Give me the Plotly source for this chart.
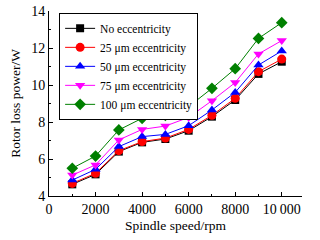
import plotly.graph_objects as go

speed = [1000, 2000, 3000, 4000, 5000, 6000, 7000, 8000, 9000, 10000]
no_ecc = [4.63, 5.17, 6.40, 6.90, 7.08, 7.53, 8.29, 9.19, 10.60, 11.26]
ecc25 = [4.68, 5.23, 6.45, 6.94, 7.13, 7.60, 8.36, 9.28, 10.72, 11.40]
ecc50 = [4.86, 5.44, 6.67, 7.21, 7.33, 7.80, 8.65, 9.60, 11.08, 11.84]
ecc75 = [5.13, 5.68, 7.03, 7.60, 7.78, 8.25, 9.15, 10.13, 11.68, 12.40]
ecc100 = [5.50, 6.16, 7.57, 8.20, 8.36, 8.83, 9.82, 10.88, 12.52, 13.37]

names = ["No eccentricity", "25 \u03bcm eccentricity", "50 \u03bcm eccentricity",
         "75 \u03bcm eccentricity", "100 \u03bcm eccentricity"]
series = [no_ecc, ecc25, ecc50, ecc75, ecc100]
colors = ["#000000", "#ff0000", "#0000ff", "#ff00ff", "#008000"]
symbols = ["square", "circle", "triangle-up", "triangle-down", "diamond"]
sizes = [8, 9, 9, 9, 9]

xticks = [0, 2000, 4000, 6000, 8000, 10000]
xticktext = ["0", "2000", "4000", "6000", "8000", "10\u2009000"]
yticks = [4, 6, 8, 10, 12, 14]

fig = go.Figure()
for n, s, c, m, sz in zip(names, series, colors, symbols, sizes):
    fig.add_trace(go.Scatter(x=speed, y=s, name=n, mode="lines+markers",
                             line=dict(color=c, width=1),
                             marker=dict(symbol=m, size=sz, color=c)))

font = "Times New Roman, Liberation Serif, serif"
fig.update_layout(
    width=320, height=240,
    margin=dict(l=49, r=18, t=11, b=44, autoexpand=False),
    plot_bgcolor="white", paper_bgcolor="white",
    font=dict(family=font, size=14, color="black"),
    showlegend=True,
    legend=dict(x=0.04, y=0.99, xanchor="left", yanchor="top",
                bordercolor="black", borderwidth=1, bgcolor="white",
                font=dict(family=font, size=11.5), tracegroupgap=0,
                itemwidth=30),
    xaxis=dict(range=[0, 10870], tickvals=xticks, ticktext=xticktext,
               ticklabeloverflow="allow", automargin=False,
               showgrid=False, zeroline=False, showline=True, linecolor="black",
               linewidth=1, ticks="inside", ticklen=4, tickcolor="black",
               minor=dict(dtick=1000, ticks="inside", ticklen=2, tickcolor="black"),
               tickfont=dict(family=font, size=14),
               title=dict(text="Spindle speed/rpm", standoff=4,
                          font=dict(family=font, size=13.5))),
    yaxis=dict(range=[4, 14], tickvals=yticks,
               ticklabeloverflow="allow", automargin=False,
               showgrid=False, zeroline=False, showline=True, linecolor="black",
               linewidth=1, ticks="inside", ticklen=4, tickcolor="black",
               minor=dict(dtick=1, ticks="inside", ticklen=2, tickcolor="black"),
               tickfont=dict(family=font, size=14),
               title=dict(text="Rotor loss power/W", standoff=7,
                          font=dict(family=font, size=13.5))),
)
fig.write_html("out.html", config={"displayModeBar": False},
               post_script="document.body.style.margin='0';")
